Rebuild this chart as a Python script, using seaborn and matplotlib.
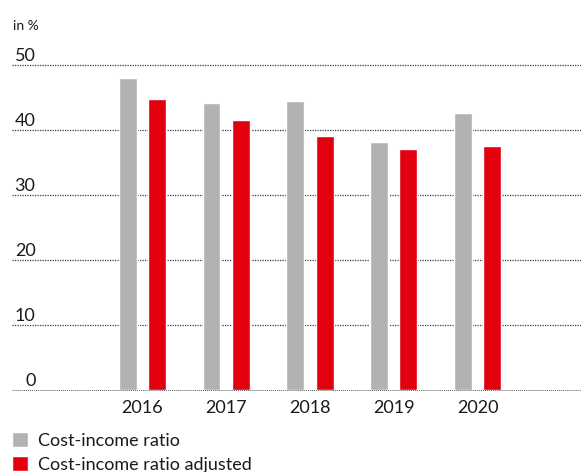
import matplotlib
matplotlib.use("Agg")
import matplotlib.pyplot as plt
import matplotlib.transforms as mtransforms
import pandas as pd
import seaborn as sns

# Cost-income ratios per year (in %)
years = ["2016", "2017", "2018", "2019", "2020"]
ratio = [48.0, 44.2, 44.5, 38.2, 42.6]
ratio_adjusted = [44.8, 41.5, 39.1, 37.1, 37.5]
series_names = ["Cost-income ratio", "Cost-income ratio adjusted"]
y_ticks = [0, 10, 20, 30, 40, 50]
unit_label = "in %"

colors = ["#b1b3b3", "#e3000f"]
text_color = "#1a1a1a"

df = pd.DataFrame({
    "year": years * 2,
    "value": ratio + ratio_adjusted,
    "series": [series_names[0]] * len(years) + [series_names[1]] * len(years),
})

sns.set_style("white")
plt.rcParams["font.family"] = ["Lato", "DejaVu Sans"]
plt.rcParams["text.color"] = text_color

W, H = 581, 472
fig = plt.figure(figsize=(W / 100, H / 100), dpi=100)
ax = fig.add_axes([12 / W, 82 / H, (W - 12) / W, 325 / H])

sns.barplot(
    data=df, x="year", y="value", hue="series", hue_order=series_names,
    palette=colors, saturation=1, width=0.704, gap=0.39, ax=ax, zorder=2,
)

ax.set_xlim(-1.558, 5.236)
ax.set_ylim(0, 50)
ax.set_xlabel("")
ax.set_ylabel("")
for s in ax.spines.values():
    s.set_visible(False)

# dotted horizontal guides, drawn behind the bars
for v in y_ticks:
    ax.axhline(v, color="#3f3f3f" if v else "#5a5a5a", lw=0.9 if v else 0.7,
               ls=(0, (1, 1)), clip_on=False, zorder=1)

# y labels sit just above their guide lines, inside the plot area
ax.set_yticks(y_ticks)
ax.set_yticklabels([str(v) for v in y_ticks])
ax.tick_params(axis="y", length=0, pad=-23.5 * 72 / 100, labelsize=13,
               labelcolor=text_color)
offset = mtransforms.ScaledTranslation(0, 4 / 100, fig.dpi_scale_trans)
for lab in ax.get_yticklabels():
    lab.set_verticalalignment("baseline")
    lab.set_transform(lab.get_transform() + offset)

ax.tick_params(axis="x", length=0, pad=7.2, labelsize=13, labelcolor=text_color)

fig.text(13 / W, 1 - 30 / H, unit_label, fontsize=10, va="baseline",
         color=text_color)

sns.move_legend(
    ax, "upper left", bbox_to_anchor=(12 / W, 1 - 432 / H),
    bbox_transform=fig.transFigure, frameon=False, title=None,
    fontsize=13, handlelength=0.89, handleheight=0.89, handletextpad=0.55,
    labelspacing=0.4, borderpad=0, borderaxespad=0,
)

fig.savefig("out.png", dpi=100)
